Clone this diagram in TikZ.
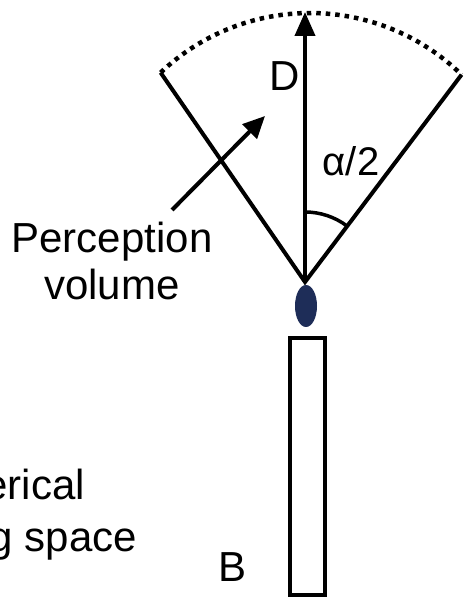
\documentclass[tikz,border=0pt]{standalone}
\usepackage{fontspec}
\setmainfont{Liberation Sans}
\usetikzlibrary{arrows.meta,calc,shapes.geometric}
\definecolor{navy}{RGB}{30,45,88}
\tikzset{
  thickline/.style={line width=4pt},
  lbl/.style={font=\fontsize{42}{50}\selectfont, inner sep=0pt},
  dotline/.style={line width=4.5pt, dash pattern=on 4.5pt off 5pt},
  bigtip/.style={-{Triangle[length=24pt,width=20pt]}},
  smalltip/.style={-{Triangle[length=22pt,width=20pt]}}
}
\begin{document}
\begin{tikzpicture}[x=1pt,y=1pt]
\useasboundingbox (0,0) rectangle (470,602);
\clip (0,0) rectangle (470,602);
% geometry
\coordinate (apex) at (305,320);
\coordinate (arcc) at (310,372);
\coordinate (lend) at ($(arcc)+(133.5:217)$);
\coordinate (rend) at ($(arcc)+(45.7:217)$);
\coordinate (top) at (305,590);
% perception volume
\draw[dotline] (lend) arc[start angle=133.5, end angle=45.7, radius=217];
\draw[thickline] (lend) -- (apex) -- (rend);
\draw[thickline, bigtip] (apex) -- (top);
\draw[line width=3.5pt] ($(apex)+(90:70)$) arc[start angle=90, end angle=53, radius=70];
% labels
\node[lbl] (D) at (285,526) {D};
\node[font=\fontsize{40}{48}\selectfont, inner sep=0pt] (alpha) at (351,441) {α/2};
% arrow to volume
\coordinate (ptail) at (172,392);
\coordinate (phead) at (265,486);
\draw[thickline, smalltip] (ptail) -- (phead);
\node[lbl, anchor=base] (perc) at (112,349) {Perception};
\node[lbl, anchor=base] (vol) at (112,302) {volume};
% eye
\node[ellipse, fill=navy, minimum width=22pt, minimum height=42pt, inner sep=0pt, draw=none] (eye) at (306,296) {};
% body
\node[draw, line width=4pt, minimum width=35pt, minimum height=257pt, inner sep=0pt, anchor=south west] (body) at (288,5) {};
\node[lbl] (B) at (233,35) {B};
% clipped text at left (cut off by the picture's edge, as in the reference)
\node[lbl, anchor=base east] (sph) at (85,102) {spherical};
\node[lbl, anchor=base east] (sens) at (137,50) {sensing space};
\end{tikzpicture}
\end{document}
